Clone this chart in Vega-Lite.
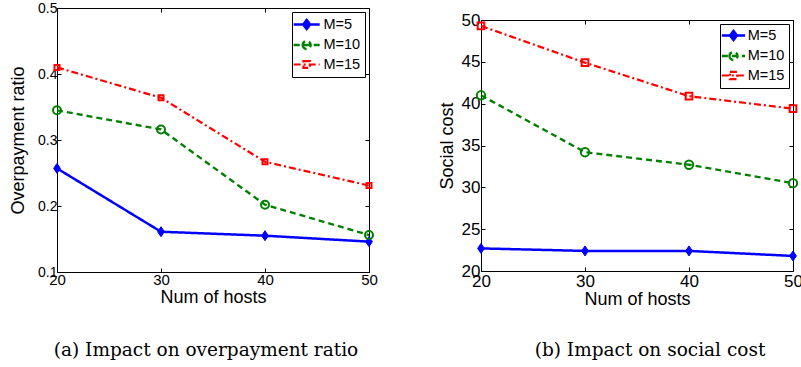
{
  "$schema": "https://vega.github.io/schema/vega-lite/v6.json",
  "background": "white",
  "padding": {"left": 8, "top": 0, "right": 0, "bottom": 0},
  "spacing": 59,
  "resolve": {
    "scale": {"color": "independent", "strokeDash": "independent", "strokeWidth": "independent", "x": "independent", "y": "independent"},
    "legend": {"color": "independent", "strokeDash": "independent"}
  },
  "datasets": {
    "overpay": [
      {"hosts": 20, "M": "M=5", "value": 0.257},
      {"hosts": 30, "M": "M=5", "value": 0.161},
      {"hosts": 40, "M": "M=5", "value": 0.155},
      {"hosts": 50, "M": "M=5", "value": 0.146},
      {"hosts": 20, "M": "M=10", "value": 0.345},
      {"hosts": 30, "M": "M=10", "value": 0.316},
      {"hosts": 40, "M": "M=10", "value": 0.202},
      {"hosts": 50, "M": "M=10", "value": 0.156},
      {"hosts": 20, "M": "M=15", "value": 0.410},
      {"hosts": 30, "M": "M=15", "value": 0.364},
      {"hosts": 40, "M": "M=15", "value": 0.267},
      {"hosts": 50, "M": "M=15", "value": 0.231}
    ],
    "social": [
      {"hosts": 20, "M": "M=5", "value": 22.7},
      {"hosts": 30, "M": "M=5", "value": 22.4},
      {"hosts": 40, "M": "M=5", "value": 22.4},
      {"hosts": 50, "M": "M=5", "value": 21.8},
      {"hosts": 20, "M": "M=10", "value": 41.0},
      {"hosts": 30, "M": "M=10", "value": 34.2},
      {"hosts": 40, "M": "M=10", "value": 32.7},
      {"hosts": 50, "M": "M=10", "value": 30.5},
      {"hosts": 20, "M": "M=15", "value": 49.3},
      {"hosts": 30, "M": "M=15", "value": 44.9},
      {"hosts": 40, "M": "M=15", "value": 40.9},
      {"hosts": 50, "M": "M=15", "value": 39.4}
    ]
  },
  "hconcat": [
    {
      "width": 312,
      "height": 264,
      "data": {"name": "overpay"},
      "title": {"text": "(a) Impact on overpayment ratio", "orient": "bottom", "fontSize": 18.5, "offset": 35, "dx": -7},
      "layer": [
        {
          "mark": {"type": "line"},
          "encoding": {
            "x": {"field": "hosts", "type": "quantitative", "scale": {"domain": [20, 50]},
              "axis": {"orient": "bottom", "values": [20, 30, 40, 50], "title": "Num of hosts", "tickSize": -4, "labelPadding": 4, "labelFontSize": 15, "titleFontSize": 18, "titlePadding": 1, "labelFlush": false, "labelOverlap": false}},
            "y": {"field": "value", "type": "quantitative", "scale": {"domain": [0.1, 0.5]},
              "axis": {"orient": "left", "values": [0.1, 0.2, 0.3, 0.4, 0.5], "format": ".1f", "title": "Overpayment ratio", "tickSize": -4, "labelPadding": 4, "labelFontSize": 14, "titleFontSize": 18, "minExtent": 22, "maxExtent": 22, "titlePadding": 8, "labelOverlap": false}},
            "color": {"field": "M", "type": "nominal",
              "scale": {"domain": ["M=5", "M=10", "M=15"], "range": ["#0000ff", "#008000", "#ff0000"]},
              "legend": {"title": null, "orient": "top-right", "offset": 4, "strokeColor": "black", "fillColor": "white", "padding": 4, "labelFontSize": 14.5, "labelFont": "Liberation Sans", "labelColor": "black", "symbolSize": 196, "symbolStrokeWidth": 2, "rowPadding": 1.5, "labelOffset": 8.3, "symbolOffset": 2.2,
                "encode": {"symbols": {"update": {
                  "shape": {"signal": "datum.value === 'M=5' ? 'M-1.857,0H1.857M0,-0.64L0.5,0L0,0.64L-0.5,0Z' : datum.value === 'M=10' ? 'M-1.857,0H1.857M-0.57,0A0.57,0.57,0,1,0,0.57,0A0.57,0.57,0,1,0,-0.57,0Z' : 'M-1.857,0H1.857M-0.47,-0.47H0.47V0.47H-0.47Z'"},
                  "fill": {"signal": "datum.value === 'M=5' ? '#0000ff' : 'transparent'"}
                }}}}},
            "strokeDash": {"field": "M", "type": "nominal",
              "scale": {"domain": ["M=5", "M=10", "M=15"], "range": [[1, 0], [6, 4], [7, 3, 2, 3]]}},
            "strokeWidth": {"field": "M", "type": "ordinal",
              "scale": {"domain": ["M=5", "M=10", "M=15"], "range": [2.5, 2.2, 1.8]}, "legend": null}
          }
        },
        {
          "transform": [{"filter": "datum.M === 'M=5'"}],
          "mark": {"type": "point", "shape": "M0,-1.25L0.85,0L0,1.25L-0.85,0Z", "size": 64, "fill": "#0000ff", "stroke": "#0000ff", "strokeWidth": 1, "opacity": 1},
          "encoding": {
            "x": {"field": "hosts", "type": "quantitative",
              "axis": {"orient": "top", "values": [20, 30, 40, 50], "labels": false, "title": null, "tickSize": -4, "minExtent": 0, "maxExtent": 0}},
            "y": {"field": "value", "type": "quantitative",
              "axis": {"orient": "right", "values": [0.1, 0.2, 0.3, 0.4, 0.5], "labels": false, "title": null, "tickSize": -4, "minExtent": 0, "maxExtent": 0}}
          }
        },
        {
          "transform": [{"filter": "datum.M === 'M=10'"}],
          "mark": {"type": "point", "shape": "circle", "size": 64, "fill": "transparent", "stroke": "#008000", "strokeWidth": 2, "opacity": 1},
          "encoding": {
            "x": {"field": "hosts", "type": "quantitative", "axis": null},
            "y": {"field": "value", "type": "quantitative", "axis": null}
          }
        },
        {
          "transform": [{"filter": "datum.M === 'M=15'"}],
          "mark": {"type": "point", "shape": "square", "size": 25, "fill": "transparent", "stroke": "#ff0000", "strokeWidth": 2, "opacity": 1},
          "encoding": {
            "x": {"field": "hosts", "type": "quantitative", "axis": null},
            "y": {"field": "value", "type": "quantitative", "axis": null}
          }
        }
      ]
    },
    {
      "spacing": 0,
      "resolve": {
        "scale": {"color": "independent", "strokeDash": "independent", "strokeWidth": "independent", "x": "independent", "y": "independent"},
        "legend": {"color": "independent", "strokeDash": "independent"}
      },
      "vconcat": [
        {
          "width": 1,
          "height": 1,
          "view": {"stroke": null, "fill": null},
          "data": {"values": []},
          "mark": {"type": "point", "opacity": 0}
        },
        {
          "width": 312,
          "height": 251,
          "data": {"name": "social"},
          "title": {"text": "(b) Impact on social cost", "orient": "bottom", "fontSize": 18.5, "offset": 33, "dx": 13},
          "layer": [
            {
              "mark": {"type": "line"},
              "encoding": {
                "x": {"field": "hosts", "type": "quantitative", "scale": {"domain": [20, 50]},
                  "axis": {"orient": "bottom", "values": [20, 30, 40, 50], "title": "Num of hosts", "tickSize": -4, "labelPadding": 6, "labelFontSize": 17, "titleFontSize": 18, "titlePadding": 1, "labelFlush": false, "labelOverlap": false}},
                "y": {"field": "value", "type": "quantitative", "scale": {"domain": [20, 50]},
                  "axis": {"orient": "left", "values": [20, 25, 30, 35, 40, 45, 50], "title": "Social cost", "tickSize": -4, "labelPadding": 5, "labelFontSize": 17, "titleFontSize": 18, "minExtent": 22, "maxExtent": 22, "titlePadding": 3, "labelOverlap": false}},
                "color": {"field": "M", "type": "nominal",
                  "scale": {"domain": ["M=5", "M=10", "M=15"], "range": ["#0000ff", "#008000", "#ff0000"]},
                  "legend": {"title": null, "orient": "top-right", "offset": 4, "strokeColor": "black", "fillColor": "white", "padding": 4, "labelFontSize": 14.5, "labelFont": "Liberation Sans", "labelColor": "black", "symbolSize": 144, "symbolStrokeWidth": 2, "rowPadding": 1.5, "labelOffset": 6.7, "symbolOffset": 2,
                    "encode": {"symbols": {"update": {
                      "shape": {"signal": "datum.value === 'M=5' ? 'M-1.94,0H1.94M0,-0.75L0.58,0L0,0.75L-0.58,0Z' : datum.value === 'M=10' ? 'M-1.94,0H1.94M-0.67,0A0.67,0.67,0,1,0,0.67,0A0.67,0.67,0,1,0,-0.67,0Z' : 'M-1.94,0H1.94M-0.6,-0.6H0.6V0.6H-0.6Z'"},
                      "fill": {"signal": "datum.value === 'M=5' ? '#0000ff' : 'transparent'"}
                    }}}}},
                "strokeDash": {"field": "M", "type": "nominal",
                  "scale": {"domain": ["M=5", "M=10", "M=15"], "range": [[1, 0], [6, 4], [7, 3, 2, 3]]}},
                "strokeWidth": {"field": "M", "type": "ordinal",
                  "scale": {"domain": ["M=5", "M=10", "M=15"], "range": [2.5, 2.2, 1.8]}, "legend": null}
              }
            },
            {
              "transform": [{"filter": "datum.M === 'M=5'"}],
              "mark": {"type": "point", "shape": "M0,-1.25L0.85,0L0,1.25L-0.85,0Z", "size": 64, "fill": "#0000ff", "stroke": "#0000ff", "strokeWidth": 1, "opacity": 1},
              "encoding": {
                "x": {"field": "hosts", "type": "quantitative",
                  "axis": {"orient": "top", "values": [20, 30, 40, 50], "labels": false, "title": null, "tickSize": -4, "minExtent": 10, "maxExtent": 10}},
                "y": {"field": "value", "type": "quantitative",
                  "axis": {"orient": "right", "values": [20, 25, 30, 35, 40, 45, 50], "labels": false, "title": null, "tickSize": -4, "minExtent": 0, "maxExtent": 0}}
              }
            },
            {
              "transform": [{"filter": "datum.M === 'M=10'"}],
              "mark": {"type": "point", "shape": "circle", "size": 70, "fill": "transparent", "stroke": "#008000", "strokeWidth": 2, "opacity": 1},
              "encoding": {
                "x": {"field": "hosts", "type": "quantitative", "axis": null},
                "y": {"field": "value", "type": "quantitative", "axis": null}
              }
            },
            {
              "transform": [{"filter": "datum.M === 'M=15'"}],
              "mark": {"type": "point", "shape": "square", "size": 45, "fill": "transparent", "stroke": "#ff0000", "strokeWidth": 2, "opacity": 1},
              "encoding": {
                "x": {"field": "hosts", "type": "quantitative", "axis": null},
                "y": {"field": "value", "type": "quantitative", "axis": null}
              }
            }
          ]
        }
      ]
    }
  ],
  "config": {
    "view": {"stroke": "black", "strokeWidth": 1},
    "font": "Liberation Sans",
    "axis": {"grid": false, "domain": false, "tickColor": "black", "labelColor": "black", "titleColor": "black", "titleFontWeight": "normal", "labelFont": "Liberation Sans", "titleFont": "Liberation Sans"},
    "title": {"font": "DejaVu Serif", "fontWeight": "normal", "color": "black"}
  }
}
